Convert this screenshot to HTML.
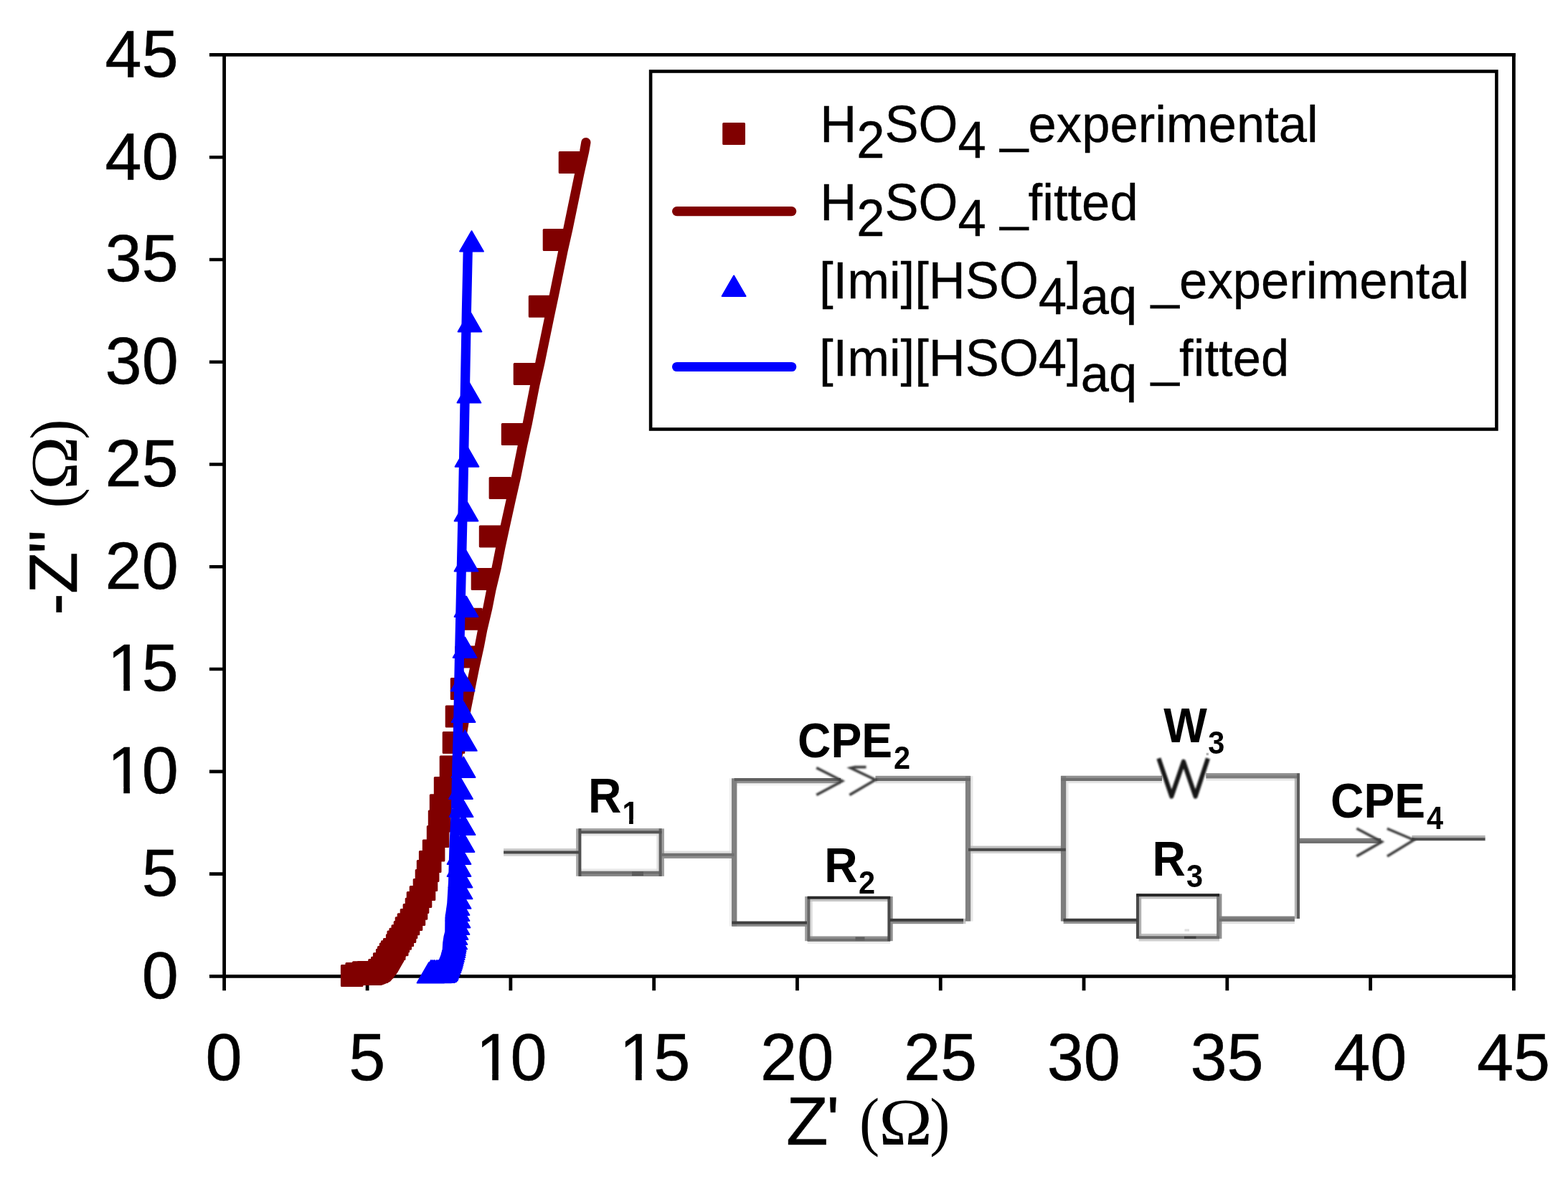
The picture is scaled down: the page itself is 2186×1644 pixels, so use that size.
<!DOCTYPE html>
<html lang="en"><head><meta charset="utf-8"><title>Nyquist plot</title>
<style>html,body{margin:0;padding:0;background:#fff}body{width:2186px;height:1644px}svg{display:block}text{white-space:pre}</style>
</head><body>
<svg width="2186" height="1644" viewBox="0 0 2186 1644" role="img" aria-label="Nyquist plot with equivalent circuit">
<defs><filter id="soft" x="-1%" y="-2%" width="102%" height="104%"><feGaussianBlur stdDeviation="0.4"/></filter><filter id="soft2" x="-2%" y="-5%" width="104%" height="110%"><feGaussianBlur stdDeviation="1.0"/></filter><clipPath id="nf1"><path clip-rule="evenodd" d="M0 0H2186V1644H0Z M869.01 1141.88H877.09V1151.00H869.01Z M882.78 1141.88H890.33V1151.00H882.78Z "/></clipPath><clipPath id="nf2"><path clip-rule="evenodd" d="M0 0H2186V1644H0Z M154.98 1097.14H172.32V1108.74H154.98Z M180.94 1097.14H197.56V1108.74H180.94Z "/></clipPath><clipPath id="nf3"><path clip-rule="evenodd" d="M0 0H2186V1644H0Z M154.98 954.36H172.32V965.97H154.98Z M180.94 954.36H197.56V965.97H180.94Z "/></clipPath><clipPath id="nf4"><path clip-rule="evenodd" d="M0 0H2186V1644H0Z M668.92 1496.89H686.26V1508.50H668.92Z M694.87 1496.89H711.50V1508.50H694.87Z "/></clipPath><clipPath id="nf5"><path clip-rule="evenodd" d="M0 0H2186V1644H0Z M868.70 1496.89H886.05V1508.50H868.70Z M894.66 1496.89H911.28V1508.50H894.66Z "/></clipPath></defs>
<rect width="2186" height="1644" fill="#fff"/>
<g filter="url(#soft)">
<rect x="1023.7" y="1091.5" width="148.3" height="4.0" fill="#f2f2f2"/>
<rect x="1016.8" y="1085.3" width="4.0" height="206.2" fill="#eeeeee"/>
<rect x="1125.7" y="1312.0" width="115.3" height="4.0" fill="#ececec"/>
<rect x="806.8" y="1161.7" width="115.7" height="4.0" fill="#e8e8e8"/>
<rect x="806.8" y="1211.4" width="115.7" height="4.0" fill="#e8e8e8"/>
<rect x="1681.3" y="1084.7" width="130.7" height="4.0" fill="#e8e8e8"/>
<rect x="1352.5" y="1082.1" width="4.0" height="202.5" fill="#e8e8e8"/>
<rect x="1485.5" y="1082.0" width="4.0" height="202.6" fill="#e8e8e8"/>
<rect x="1479.2" y="1088.2" width="140.8" height="4.0" fill="#e4e4e4"/>
<rect x="922.5" y="1186.5" width="101.2" height="4.0" fill="#e0e0e0"/>
<rect x="1220.5" y="1088.3" width="132.3" height="4.0" fill="#e0e0e0"/>
<rect x="1699.6" y="1284.2" width="105.3" height="4.0" fill="#e0e0e0"/>
<rect x="915.4" y="1155.4" width="4.0" height="66.4" fill="#e0e0e0"/>
<rect x="1651.5" y="1295.4" width="6.5" height="3.3" fill="#e0e0e0"/>
<rect x="1128.7" y="1250.0" width="4.0" height="62.2" fill="#dcdcdc"/>
<rect x="702.1" y="1189.8" width="104.9" height="4.0" fill="#d0d0d0"/>
<rect x="1350.0" y="1186.0" width="135.8" height="4.0" fill="#d0d0d0"/>
<rect x="1587.5" y="1308.5" width="112.5" height="4.0" fill="#d0d0d0"/>
<rect x="702.1" y="1183.2" width="104.9" height="4.0" fill="#c8c8c8"/>
<rect x="1343.0" y="1284.2" width="3.4" height="4.0" fill="#c8c8c8"/>
<rect x="1125.7" y="1253.0" width="115.3" height="4.0" fill="#c4c4c4"/>
<rect x="1350.0" y="1179.5" width="135.8" height="4.0" fill="#c0c0c0"/>
<rect x="1584.3" y="1249.4" width="115.7" height="4.0" fill="#c0c0c0"/>
<rect x="1587.5" y="1301.9" width="112.5" height="4.0" fill="#c0c0c0"/>
<rect x="1343.0" y="1280.9" width="3.4" height="4.0" fill="#b8b8b8"/>
<rect x="1804.8" y="1078.4" width="4.0" height="202.6" fill="#b4b4b4"/>
<rect x="1681.6" y="1049.8" width="3.4" height="3.4" fill="#b4b4b4"/>
<rect x="1968.4" y="1164.9" width="102.2" height="4.0" fill="#b0b0b0"/>
<rect x="1587.2" y="1246.4" width="4.0" height="62.5" fill="#b0b0b0"/>
<rect x="803.1" y="1155.4" width="4.0" height="66.4" fill="#a8a8a8"/>
<rect x="806.8" y="1155.1" width="115.7" height="4.0" fill="#a0a0a0"/>
<rect x="922.0" y="1155.4" width="4.0" height="66.4" fill="#a0a0a0"/>
<rect x="1122.1" y="1250.0" width="4.0" height="62.2" fill="#a0a0a0"/>
<rect x="922.5" y="1193.0" width="101.2" height="4.0" fill="#909090"/>
<rect x="1023.7" y="1088.2" width="148.3" height="4.0" fill="#909090"/>
<rect x="1220.5" y="1081.8" width="132.3" height="4.0" fill="#909090"/>
<rect x="1125.7" y="1305.5" width="115.3" height="4.0" fill="#909090"/>
<rect x="1479.2" y="1081.7" width="140.8" height="4.0" fill="#909090"/>
<rect x="1681.3" y="1078.1" width="130.7" height="4.0" fill="#909090"/>
<rect x="1482.6" y="1284.0" width="103.4" height="4.0" fill="#909090"/>
<rect x="1240.7" y="1250.0" width="4.0" height="62.2" fill="#909090"/>
<rect x="1699.4" y="1246.4" width="4.0" height="62.5" fill="#909090"/>
<rect x="1020.4" y="1287.9" width="104.6" height="4.0" fill="#8c8c8c"/>
<rect x="1240.8" y="1284.2" width="102.2" height="4.0" fill="#8c8c8c"/>
<rect x="806.8" y="1218.0" width="115.7" height="4.0" fill="#888888"/>
<rect x="1699.6" y="1277.6" width="105.3" height="4.0" fill="#808080"/>
<rect x="1812.0" y="1168.8" width="113.2" height="4.0" fill="#808080"/>
<rect x="1020.0" y="1085.3" width="4.0" height="206.2" fill="#808080"/>
<rect x="1023.4" y="1085.3" width="4.0" height="206.2" fill="#808080"/>
<rect x="1345.9" y="1082.1" width="4.0" height="202.5" fill="#808080"/>
<rect x="1349.2" y="1082.1" width="4.0" height="202.5" fill="#808080"/>
<rect x="1681.3" y="1081.4" width="130.7" height="4.0" fill="#7c7c7c"/>
<rect x="1478.9" y="1082.0" width="4.0" height="202.6" fill="#7c7c7c"/>
<rect x="1482.2" y="1082.0" width="4.0" height="202.6" fill="#7c7c7c"/>
<rect x="1696.1" y="1246.4" width="4.0" height="62.5" fill="#787878"/>
<rect x="806.8" y="1214.7" width="115.7" height="4.0" fill="#707070"/>
<rect x="922.5" y="1189.8" width="101.2" height="4.0" fill="#707070"/>
<rect x="1125.7" y="1308.8" width="115.3" height="4.0" fill="#707070"/>
<rect x="1479.2" y="1085.0" width="140.8" height="4.0" fill="#707070"/>
<rect x="1699.6" y="1280.9" width="105.3" height="4.0" fill="#707070"/>
<rect x="1812.0" y="1172.0" width="113.2" height="4.0" fill="#707070"/>
<rect x="1220.5" y="1085.0" width="132.3" height="4.0" fill="#6a6a6a"/>
<rect x="1587.5" y="1305.2" width="112.5" height="4.0" fill="#686868"/>
<rect x="1125.4" y="1250.0" width="4.0" height="62.2" fill="#686868"/>
<rect x="1023.7" y="1085.0" width="148.3" height="4.0" fill="#606060"/>
<rect x="918.6" y="1155.4" width="4.0" height="66.4" fill="#606060"/>
<rect x="1192.5" y="1306.5" width="13.0" height="5.0" fill="#606060"/>
<rect x="1808.0" y="1078.4" width="4.0" height="202.6" fill="#5c5c5c"/>
<rect x="881.0" y="1215.2" width="16.0" height="6.0" fill="#5c5c5c"/>
<rect x="806.8" y="1158.4" width="115.7" height="4.0" fill="#555555"/>
<rect x="1968.4" y="1168.2" width="102.2" height="4.0" fill="#505050"/>
<rect x="806.4" y="1155.4" width="4.0" height="66.4" fill="#505050"/>
<rect x="702.1" y="1186.5" width="104.9" height="4.0" fill="#484848"/>
<rect x="1350.0" y="1182.8" width="135.8" height="4.0" fill="#484848"/>
<rect x="1237.4" y="1250.0" width="4.0" height="62.2" fill="#484848"/>
<rect x="1584.0" y="1246.4" width="4.0" height="62.5" fill="#484848"/>
<rect x="1020.4" y="1284.6" width="104.6" height="4.0" fill="#404040"/>
<rect x="1651.0" y="1305.6" width="16.5" height="3.4" fill="#404040"/>
<rect x="1240.8" y="1280.9" width="102.2" height="4.0" fill="#3c3c3c"/>
<rect x="1482.6" y="1280.8" width="103.4" height="4.0" fill="#3c3c3c"/>
<rect x="1125.7" y="1249.7" width="115.3" height="4.0" fill="#2c2c2c"/>
<rect x="1584.3" y="1246.1" width="115.7" height="4.0" fill="#282828"/>
</g>
<g filter="url(#soft2)" fill="none">
<path stroke="#3c3c3c" stroke-width="3.6" stroke-linecap="square" stroke-linejoin="miter" d="M1139.8 1071.4L1174.4 1089L1139.8 1107.6 M1205.7 1069.6H1192L1185.9 1070.9L1220.5 1087.3L1185.9 1107.6 M1892.9 1156.1L1926.5 1173.9L1892.9 1193.1 M1935.5 1156.1L1971.1 1171.2L1935.5 1193.1"/>
<path stroke="#141414" stroke-width="6.2" stroke-linejoin="round" stroke-linecap="square" d="M1616.4 1060.5L1633.3 1110.5L1650 1062L1666.6 1110.5L1683 1060.5"/>
</g>
<text transform="translate(819.90 1132.80) scale(1.0 1.053)" font-family='"Liberation Sans", sans-serif' font-size="64.2" font-weight="bold">R</text>
<g clip-path="url(#nf1)"><text transform="translate(867.40 1148.50) scale(1 1.09)" x="0.00" font-family='"Liberation Sans", sans-serif' font-size="41.5" font-weight="bold">1</text></g>
<text transform="translate(1112.10 1055.80) scale(1.0 1.053)" font-family='"Liberation Sans", sans-serif' font-size="64.2" font-weight="bold">CPE</text>
<text transform="translate(1246.00 1071.80) scale(1.0 1.09)" font-family='"Liberation Sans", sans-serif' font-size="41.5" font-weight="bold">2</text>
<text transform="translate(1149.20 1229.60) scale(1.0 1.053)" font-family='"Liberation Sans", sans-serif' font-size="64.2" font-weight="bold">R</text>
<text transform="translate(1197.00 1245.50) scale(1.0 1.09)" font-family='"Liberation Sans", sans-serif' font-size="41.5" font-weight="bold">2</text>
<text transform="translate(1622.30 1034.90) scale(1.0 1.053)" font-family='"Liberation Sans", sans-serif' font-size="64.2" font-weight="bold">W</text>
<text transform="translate(1684.30 1050.90) scale(1.0 1.09)" font-family='"Liberation Sans", sans-serif' font-size="41.5" font-weight="bold">3</text>
<text transform="translate(1606.60 1221.20) scale(1.0 1.053)" font-family='"Liberation Sans", sans-serif' font-size="64.2" font-weight="bold">R</text>
<text transform="translate(1654.00 1236.70) scale(1.0 1.09)" font-family='"Liberation Sans", sans-serif' font-size="41.5" font-weight="bold">3</text>
<text transform="translate(1855.10 1140.10) scale(1.0 1.053)" font-family='"Liberation Sans", sans-serif' font-size="64.2" font-weight="bold">CPE</text>
<text transform="translate(1989.00 1155.80) scale(1.0 1.09)" font-family='"Liberation Sans", sans-serif' font-size="41.5" font-weight="bold">4</text>
<g stroke="#000" fill="none" stroke-linecap="butt">
<path stroke-width="4.8" d="M312.6 74.0 V1381.2 M2110.4 74.0 V1381.2"/>
<path stroke-width="4.8" d="M291.9 76.4 H2112.8 M291.9 1361.4 H2112.8"/>
<path stroke-width="4.6" d="M291.9 1218.62 H312.3 M291.9 1075.84 H312.3 M291.9 933.07 H312.3 M291.9 790.29 H312.3 M291.9 647.51 H312.3 M291.9 504.73 H312.3 M291.9 361.96 H312.3 M291.9 219.18 H312.3 "/>
<path stroke-width="4.8" d="M512.09 1361.4 V1381.2 M711.88 1361.4 V1381.2 M911.67 1361.4 V1381.2 M1111.46 1361.4 V1381.2 M1311.24 1361.4 V1381.2 M1511.03 1361.4 V1381.2 M1710.82 1361.4 V1381.2 M1910.61 1361.4 V1381.2 "/>
</g>
<g>
<text x="248.70" y="1391.80" font-family='"Liberation Sans", sans-serif' font-size="91.8" text-anchor="end" stroke="#000" stroke-width="0.5">0</text>
<text x="248.70" y="1249.02" font-family='"Liberation Sans", sans-serif' font-size="91.8" text-anchor="end" stroke="#000" stroke-width="0.5">5</text>
<g clip-path="url(#nf2)"><text transform="translate(149.49 1106.24) scale(1 1.0)" x="0.00 48.15" font-family='"Liberation Sans", sans-serif' font-size="91.8" stroke="#000" stroke-width="0.5">10</text></g>
<g clip-path="url(#nf3)"><text transform="translate(149.49 963.47) scale(1 1.0)" x="0.00 48.15" font-family='"Liberation Sans", sans-serif' font-size="91.8" stroke="#000" stroke-width="0.5">15</text></g>
<text x="248.70" y="820.69" font-family='"Liberation Sans", sans-serif' font-size="91.8" text-anchor="end" stroke="#000" stroke-width="0.5">20</text>
<text x="248.70" y="677.91" font-family='"Liberation Sans", sans-serif' font-size="91.8" text-anchor="end" stroke="#000" stroke-width="0.5">25</text>
<text x="248.70" y="535.13" font-family='"Liberation Sans", sans-serif' font-size="91.8" text-anchor="end" stroke="#000" stroke-width="0.5">30</text>
<text x="248.70" y="392.36" font-family='"Liberation Sans", sans-serif' font-size="91.8" text-anchor="end" stroke="#000" stroke-width="0.5">35</text>
<text x="248.70" y="249.58" font-family='"Liberation Sans", sans-serif' font-size="91.8" text-anchor="end" stroke="#000" stroke-width="0.5">40</text>
<text x="248.70" y="106.80" font-family='"Liberation Sans", sans-serif' font-size="91.8" text-anchor="end" stroke="#000" stroke-width="0.5">45</text>
<text x="312.00" y="1506.00" font-family='"Liberation Sans", sans-serif' font-size="91.8" text-anchor="middle" stroke="#000" stroke-width="0.5">0</text>
<text x="511.79" y="1506.00" font-family='"Liberation Sans", sans-serif' font-size="91.8" text-anchor="middle" stroke="#000" stroke-width="0.5">5</text>
<g clip-path="url(#nf4)"><text transform="translate(663.42 1506.00) scale(1 1.0)" x="0.00 48.15" font-family='"Liberation Sans", sans-serif' font-size="91.8" stroke="#000" stroke-width="0.5">10</text></g>
<g clip-path="url(#nf5)"><text transform="translate(863.21 1506.00) scale(1 1.0)" x="0.00 48.15" font-family='"Liberation Sans", sans-serif' font-size="91.8" stroke="#000" stroke-width="0.5">15</text></g>
<text x="1111.16" y="1506.00" font-family='"Liberation Sans", sans-serif' font-size="91.8" text-anchor="middle" stroke="#000" stroke-width="0.5">20</text>
<text x="1310.94" y="1506.00" font-family='"Liberation Sans", sans-serif' font-size="91.8" text-anchor="middle" stroke="#000" stroke-width="0.5">25</text>
<text x="1510.73" y="1506.00" font-family='"Liberation Sans", sans-serif' font-size="91.8" text-anchor="middle" stroke="#000" stroke-width="0.5">30</text>
<text x="1710.52" y="1506.00" font-family='"Liberation Sans", sans-serif' font-size="91.8" text-anchor="middle" stroke="#000" stroke-width="0.5">35</text>
<text x="1910.31" y="1506.00" font-family='"Liberation Sans", sans-serif' font-size="91.8" text-anchor="middle" stroke="#000" stroke-width="0.5">40</text>
<text x="2110.10" y="1506.00" font-family='"Liberation Sans", sans-serif' font-size="91.8" text-anchor="middle" stroke="#000" stroke-width="0.5">45</text>
</g>
<g transform="translate(0 1595.9)">
<text transform="translate(1096.00 0.00) scale(1.045 1.035)" font-family='"Liberation Sans", sans-serif' font-size="91.8" stroke="#000" stroke-width="0.5">Z</text><text transform="translate(1152.60 0.00) scale(1.0 1.035)" font-family='"Liberation Sans", sans-serif' font-size="91.8" stroke="#000" stroke-width="0.5">' </text><text transform="translate(1198.10 -2.00) scale(0.92 1.0)" font-family='"Liberation Serif", serif' font-size="92">(</text><text transform="translate(1225.20 0.00) scale(1.075 1.0)" font-family='"Liberation Serif", serif' font-size="93.5">&#937;</text><text transform="translate(1296.20 -2.00) scale(0.92 1.0)" font-family='"Liberation Serif", serif' font-size="92">)</text>
</g>
<g transform="translate(107.1 853.8) rotate(-90)">
<text x="-4.00" y="0.00" font-family='"Liberation Sans", sans-serif' font-size="91.8" stroke="#000" stroke-width="0.5">-</text><text transform="translate(25.70 0.00) scale(1.045 1.035)" font-family='"Liberation Sans", sans-serif' font-size="91.8" stroke="#000" stroke-width="0.5">Z</text><text transform="translate(82.00 0.00) scale(1.0 1.035)" font-family='"Liberation Sans", sans-serif' font-size="91.8" stroke="#000" stroke-width="0.5">" </text><text transform="translate(145.30 -2.00) scale(0.92 1.0)" font-family='"Liberation Serif", serif' font-size="92">(</text><text transform="translate(170.70 0.00) scale(1.075 1.0)" font-family='"Liberation Serif", serif' font-size="93.5">&#937;</text><text transform="translate(241.10 -2.00) scale(0.92 1.0)" font-family='"Liberation Serif", serif' font-size="92">)</text>
</g>
<g>
<path fill="#800000" stroke="#800000" stroke-width="3" stroke-linejoin="round" d="M780.2 212.6h28.6v28.0h-28.6zM758.2 320.5h28.6v28.0h-28.6zM738.3 413.3h28.6v28.0h-28.6zM717.2 507.4h28.6v28.0h-28.6zM700.3 591.5h28.6v28.0h-28.6zM683.1 666.4h28.6v28.0h-28.6zM669.3 733.9h28.6v28.0h-28.6zM658.2 793.4h28.6v28.0h-28.6zM642.7 849.2h28.6v28.0h-28.6zM635.7 902.0h28.6v28.0h-28.6zM629.3 946.4h28.6v28.0h-28.6zM622.2 984.9h28.6v28.0h-28.6zM618.2 1021.6h28.6v28.0h-28.6zM614.2 1055.0h28.6v28.0h-28.6zM606.3 1084.5h28.6v28.0h-28.6zM600.3 1108.8h28.6v28.0h-28.6zM598.3 1131.1h28.6v28.0h-28.6zM596.3 1152.6h28.6v28.0h-28.6zM590.3 1172.1h28.6v28.0h-28.6zM585.4 1187.6h28.6v28.0h-28.6zM582.3 1200.4h28.6v28.0h-28.6zM580.2 1213.5h28.6v28.0h-28.6zM577.2 1226.5h28.6v28.0h-28.6zM572.2 1236.5h28.6v28.0h-28.6zM568.2 1244.5h28.6v28.0h-28.6zM566.2 1253.3h28.6v28.0h-28.6zM563.1 1261.5h28.6v28.0h-28.6zM559.2 1268.5h28.6v28.0h-28.6zM555.2 1274.7h28.6v28.0h-28.6zM552.2 1279.8h28.6v28.0h-28.6zM550.2 1285.6h28.6v28.0h-28.6zM547.0 1290.7h28.6v28.0h-28.6zM543.9 1295.3h28.6v28.0h-28.6zM541.0 1298.9h28.6v28.0h-28.6zM539.4 1303.7h28.6v28.0h-28.6zM535.4 1309.5h28.6v28.0h-28.6zM532.4 1312.7h28.6v28.0h-28.6zM530.3 1316.1h28.6v28.0h-28.6zM527.5 1320.6h28.6v28.0h-28.6zM525.4 1324.3h28.6v28.0h-28.6zM521.4 1329.8h28.6v28.0h-28.6zM518.5 1335.3h28.6v28.0h-28.6zM514.7 1338.6h28.6v28.0h-28.6zM511.0 1341.5h28.6v28.0h-28.6zM504.7 1341.6h28.6v28.0h-28.6zM498.7 1341.6h28.6v28.0h-28.6zM492.5 1341.7h28.6v28.0h-28.6zM482.9 1343.5h28.6v28.0h-28.6zM476.4 1346.6h28.6v28.0h-28.6z"/>
<polyline fill="none" stroke="#800000" stroke-width="13.2" stroke-linecap="round" stroke-linejoin="round" points="816.9,198.5 814.7,211.1 807.8,242.1 791.9,319.1 785.0,349.8 772.4,411.8 765.8,442.8 752.8,506.1 745.8,536.7 735.4,590.0 728.5,621.0 719.6,665.0 712.6,695.8 704.6,732.0 697.7,763.8 692.1,792.1 684.8,822.7 679.9,847.7 672.6,878.8 668.5,900.3 661.6,931.7 650.2,988.2 645.0,1019.3 639.0,1049.0 628.0,1100.0 617.0,1150.0 606.0,1195.0 596.0,1232.0 585.0,1265.0 573.0,1300.0 562.0,1325.0 556.9,1338.0 548.1,1353.4 539.8,1363.5 534.7,1365.8 530.0,1367.5 500.0,1367.5"/>
<path fill="#0000ff" stroke="#0000ff" stroke-width="2" stroke-linejoin="round" d="M657.50 322.20L673.87 350.60H641.13zM655.00 434.00L671.37 462.40H638.63zM653.90 533.20L670.27 561.60H637.53zM651.00 622.30L667.37 650.70H634.63zM650.00 698.10L666.37 726.50H633.63zM650.00 768.20L666.37 796.60H633.63zM650.00 831.50L666.37 859.90H633.63zM648.10 888.60L664.47 917.00H631.73zM645.10 935.10L661.47 963.50H628.73zM646.10 978.60L662.47 1007.00H629.73zM648.30 1018.40L664.67 1046.80H631.93zM646.10 1055.50L662.47 1083.90H629.73zM642.50 1085.60L658.87 1114.00H626.13zM643.00 1110.70L659.37 1139.10H626.63zM646.00 1135.70L662.37 1164.10H629.63zM645.00 1159.50L661.37 1187.90H628.63zM640.00 1176.60L656.37 1205.00H623.63zM640.00 1193.60L656.37 1222.00H623.63zM642.00 1209.10L658.37 1237.50H625.63zM642.00 1224.90L658.37 1253.30H625.63zM640.00 1238.40L656.37 1266.80H623.63zM638.00 1247.60L654.37 1276.00H621.63zM638.00 1255.60L654.37 1284.00H621.63zM639.00 1265.10L655.37 1293.50H622.63zM638.00 1274.60L654.37 1303.00H621.63zM636.00 1281.60L652.37 1310.00H619.63zM635.00 1288.60L651.37 1317.00H618.63zM634.70 1295.10L651.07 1323.50H618.33zM633.20 1298.10L649.57 1326.50H616.83zM632.80 1300.60L649.17 1329.00H616.43zM632.40 1303.60L648.77 1332.00H616.03zM632.00 1306.60L648.37 1335.00H615.63zM631.20 1309.60L647.57 1338.00H614.83zM630.40 1312.60L646.77 1341.00H614.03zM629.60 1315.10L645.97 1343.50H613.23zM629.00 1317.60L645.37 1346.00H612.63zM628.40 1320.10L644.77 1348.50H612.03zM627.70 1322.60L644.07 1351.00H611.33zM626.90 1325.10L643.27 1353.50H610.53zM626.00 1327.60L642.37 1356.00H609.63zM625.00 1330.10L641.37 1358.50H608.63zM624.00 1332.60L640.37 1361.00H607.63zM623.00 1335.10L639.37 1363.50H606.63zM622.20 1337.10L638.57 1365.50H605.83zM621.40 1339.10L637.77 1367.50H605.03zM619.70 1340.60L636.07 1369.00H603.33zM617.70 1341.60L634.07 1370.00H601.33zM613.00 1341.80L629.37 1370.20H596.63zM608.00 1341.90L624.37 1370.30H591.63zM603.00 1342.00L619.37 1370.40H586.63zM598.00 1342.20L614.37 1370.60H581.63zM611.30 1339.00L627.67 1367.40H594.93zM609.00 1339.00L625.37 1367.40H592.63zM606.00 1339.00L622.37 1367.40H589.63zM603.50 1339.00L619.87 1367.40H587.13zM601.00 1339.00L617.37 1367.40H584.63z"/>
<polyline fill="none" stroke="#0000ff" stroke-width="13.2" stroke-linecap="round" stroke-linejoin="round" points="652.3,347.0 650.4,433.7 649.6,476.5 645.9,677.0 644.5,740.0 640.4,920.7 638.5,1019.0 636.9,1068.0 635.5,1128.0 633.0,1180.0 631.6,1230.0 630.7,1245.0 629.8,1260.0 627.0,1280.0 626.8,1300.0 625.0,1307.0 623.8,1315.0 623.2,1325.0 620.7,1334.0 615.0,1348.0 606.0,1358.0 598.0,1362.0"/>
</g>
<rect x="907.1" y="99.5" width="1179.3" height="499.0" fill="#fff" stroke="#000" stroke-width="4.6"/>
<rect x="1008.7" y="172.4" width="28.8" height="28" fill="#800000" stroke="#800000" stroke-width="3" stroke-linejoin="round"/>
<path d="M943.6 294.6H1103.7" stroke="#800000" stroke-width="13.2" stroke-linecap="round" fill="none"/>
<path fill="#0000ff" stroke="#0000ff" stroke-width="2" stroke-linejoin="round" d="M1023.10 384.49L1039.56 412.90H1006.64z"/>
<path d="M943.6 511.5H1103.7" stroke="#0000ff" stroke-width="13.2" stroke-linecap="round" fill="none"/>
<text transform="translate(1143.20 198.00) scale(1.0 1.015)" font-family='"Liberation Sans", sans-serif' font-size="70.6" stroke="#000" stroke-width="0.35">H<tspan dy="21.77">2</tspan><tspan dy="-21.77">SO</tspan><tspan dy="21.77">4</tspan><tspan dy="-21.77"> _experimental</tspan></text>
<text transform="translate(1143.20 307.10) scale(1.0 1.015)" font-family='"Liberation Sans", sans-serif' font-size="70.6" stroke="#000" stroke-width="0.35">H<tspan dy="21.77">2</tspan><tspan dy="-21.77">SO</tspan><tspan dy="21.77">4</tspan><tspan dy="-21.77"> _fitted</tspan></text>
<text transform="translate(1141.90 415.70) scale(1.0 1.015)" font-family='"Liberation Sans", sans-serif' font-size="70.6" stroke="#000" stroke-width="0.35">[Imi][HSO<tspan dy="21.77">4</tspan><tspan dy="-21.77">]</tspan><tspan dy="21.77">aq</tspan><tspan dy="-21.77"> _experimental</tspan></text>
<text transform="translate(1141.90 523.50) scale(1.0 1.015)" font-family='"Liberation Sans", sans-serif' font-size="70.6" stroke="#000" stroke-width="0.35">[Imi][HSO4]<tspan dy="21.77">aq</tspan><tspan dy="-21.77"> _fitted</tspan></text>
</svg>
</body></html>
